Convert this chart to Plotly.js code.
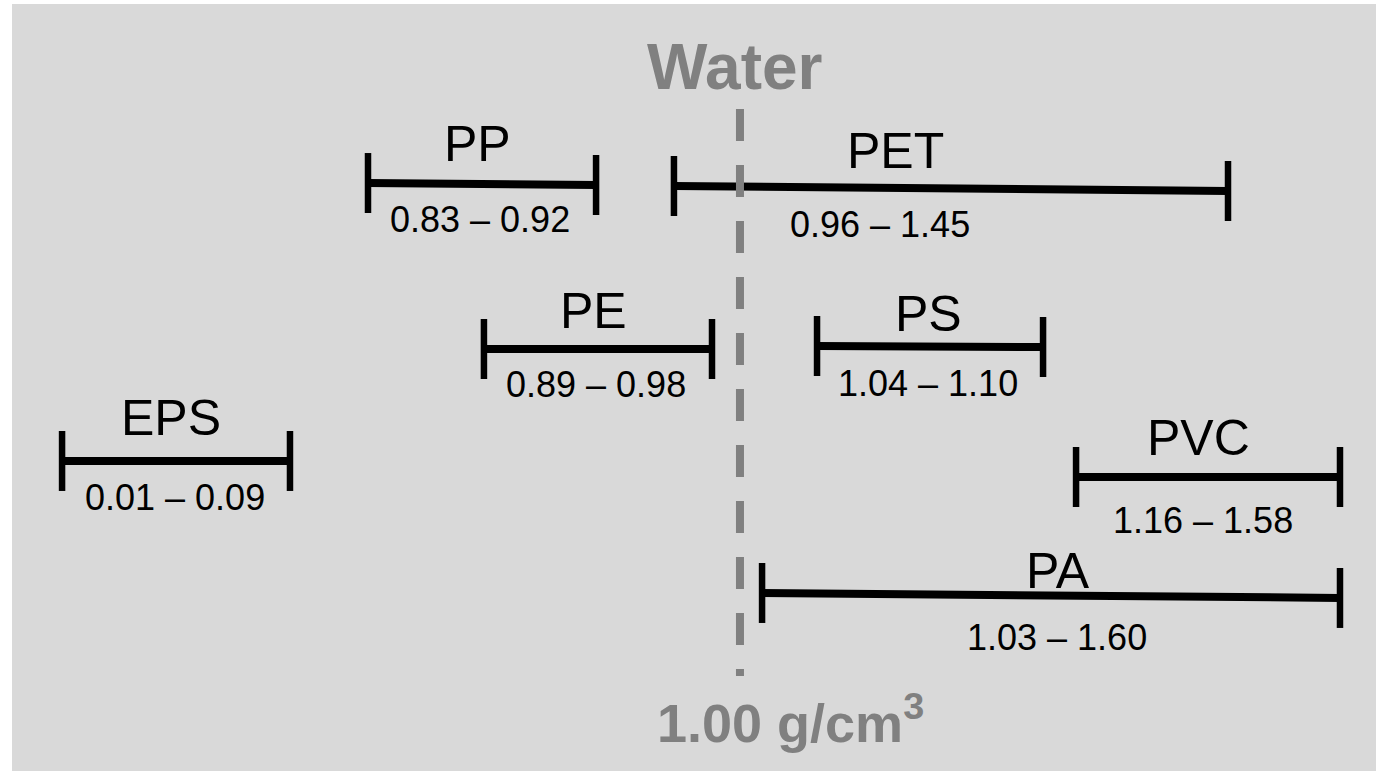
<!DOCTYPE html>
<html>
<head>
<meta charset="utf-8">
<script src="https://cdn.plot.ly/plotly-3.0.1.min.js"></script>
<style>html,body{margin:0;padding:0;background:#fff;}#chart{width:1376px;height:771px;}</style>
</head>
<body>
<div id="chart"></div>
<script>
// Plastic types and their density ranges (g/cm3)
const names   = ["PP", "PET", "PE", "PS", "EPS", "PVC", "PA"];
const dMin    = ["0.83", "0.96", "0.89", "1.04", "0.01", "1.16", "1.03"];
const dMax    = ["0.92", "1.45", "0.98", "1.10", "0.09", "1.58", "1.60"];
// schematic (not-to-scale) placement, in diagram units 0-100
const xStart  = [26.10, 48.53, 34.60, 59.02, 3.67, 78.01, 54.99];
const xEnd    = [42.82, 89.15, 51.32, 75.59, 20.38, 97.36, 97.36];
const yStart  = [76.66, 76.27, 55.02, 55.41, 40.42, 38.33, 23.21];
const yEnd    = [76.40, 75.62, 55.02, 55.28, 40.42, 38.33, 22.56];
const nameX   = [34.16, 64.74, 42.60, 67.16, 11.66, 86.95, 76.69];
const nameY   = [81.81, 80.83, 59.97, 59.58, 46.02, 43.42, 26.08];
const rangeX  = [34.31, 63.64, 42.82, 67.16, 11.95, 87.32, 76.61];
const rangeY  = [71.84, 71.19, 50.33, 50.46, 35.72, 32.72, 17.47];
// water reference
const waterX = 53.37;
const waterY = [86.31, 12.39];
const waterLabel = "Water";
const waterValue = "1.00 g/cm<sup>3</sup>";
const waterLabelPos = [53.0, 91.85];
const waterValuePos = [57.04, 6.84];
const capHalf = 3.91;

const barX = [], barY = [], capX = [], capY = [];
names.forEach((n, i) => {
  barX.push(xStart[i], xEnd[i], null);
  barY.push(yStart[i], yEnd[i], null);
  capX.push(xStart[i], xStart[i], null, xEnd[i], xEnd[i], null);
  capY.push(yStart[i] + capHalf, yStart[i] - capHalf, null, yEnd[i] + capHalf, yEnd[i] - capHalf, null);
});

const traces = [
  {x: barX, y: barY, mode: "lines", line: {color: "#000", width: 8}, hoverinfo: "skip", showlegend: false},
  {x: capX, y: capY, mode: "lines", line: {color: "#000", width: 6.5}, hoverinfo: "skip", showlegend: false},
  {x: [waterX, waterX], y: waterY, mode: "lines", line: {color: "#808080", width: 8, dash: "32px,24px"}, hoverinfo: "skip", showlegend: false}
];

const font = "Liberation Sans, Arial, sans-serif";
const annotations = [];
names.forEach((n, i) => {
  annotations.push({x: nameX[i], y: nameY[i], text: n, showarrow: false, xanchor: "center", yanchor: "middle",
    font: {family: font, size: 50, color: "#000"}});
  annotations.push({x: rangeX[i], y: rangeY[i], text: dMin[i] + " \u2013 " + dMax[i], showarrow: false, xanchor: "center", yanchor: "middle",
    font: {family: font, size: 36, color: "#000"}});
});
annotations.push({x: waterLabelPos[0], y: waterLabelPos[1], text: "<b>" + waterLabel + "</b>", showarrow: false, xanchor: "center", yanchor: "middle",
  font: {family: font, size: 64, color: "#808080"}});
annotations.push({x: waterValuePos[0], y: waterValuePos[1], text: "<b>" + waterValue + "</b>", showarrow: false, xanchor: "center", yanchor: "middle",
  font: {family: font, size: 54, color: "#808080"}});

const layout = {
  width: 1376, height: 771,
  margin: {l: 12, r: 0, t: 4, b: 0, pad: 0},
  paper_bgcolor: "#ffffff",
  plot_bgcolor: "#d9d9d9",
  xaxis: {range: [0, 100], visible: false, fixedrange: true},
  yaxis: {range: [0, 100], visible: false, fixedrange: true},
  annotations: annotations,
  showlegend: false
};

Plotly.newPlot("chart", traces, layout, {staticPlot: true, displayModeBar: false});
</script>
</body>
</html>
